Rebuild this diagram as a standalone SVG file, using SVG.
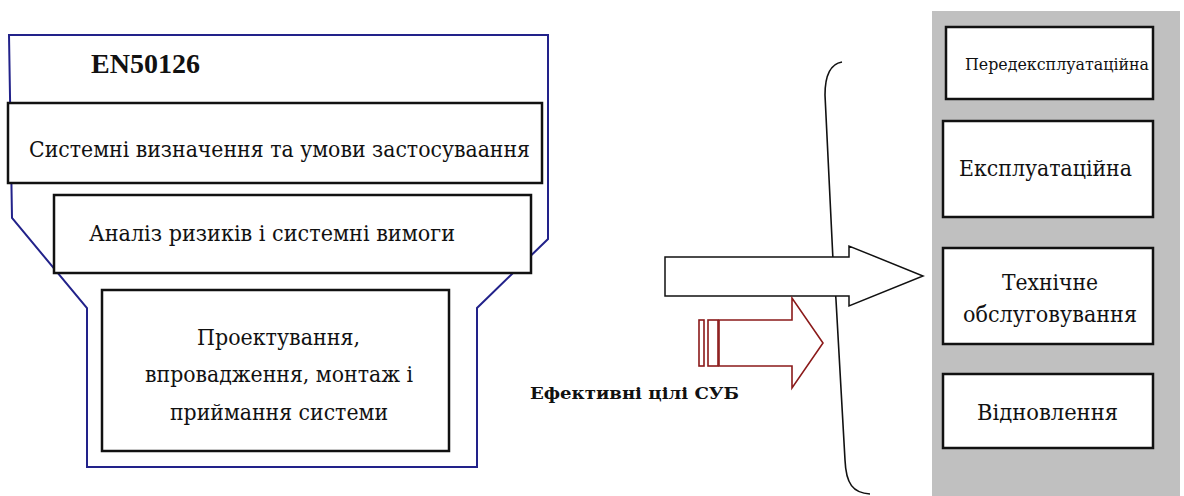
<svg xmlns="http://www.w3.org/2000/svg" width="1184" height="496" viewBox="0 0 1184 496">
  <style>
    .t { font-family: "Liberation Serif", "DejaVu Serif", serif; fill: #111; }
    .c { font-family: "DejaVu Serif", "Liberation Serif", serif; fill: #111; }
    .box { fill: #fff; stroke: #111; stroke-width: 2.5; }
    .outline { fill: none; stroke: #22228a; stroke-width: 2; }
    .arrow { fill: #fff; stroke: #111; stroke-width: 1.5; }
    .red { fill: #fff; stroke: #8b1a1a; stroke-width: 1.6; }
  </style>
  <rect x="0" y="0" width="1184" height="496" fill="#fff"/>

  <g id="en50126-frame">
    <path class="outline" d="M9,35 L548,35 L548,239 L477,308 L477,467 L87,467 L87,308 L12,218 Z"/>
    <text class="t" x="91" y="73" font-size="28" font-weight="bold" textLength="109" lengthAdjust="spacingAndGlyphs">EN50126</text>
  </g>

  <g id="node-system-def">
    <rect class="box" x="8" y="103" width="534" height="80"/>
    <text class="c" x="29" y="157" font-size="22" textLength="501" lengthAdjust="spacingAndGlyphs">Системні визначення та умови застосуваання</text>
  </g>

  <g id="node-risk">
    <rect class="box" x="54" y="195" width="477" height="78"/>
    <text class="c" x="89" y="241" font-size="22" textLength="366" lengthAdjust="spacingAndGlyphs">Аналіз ризиків і системні вимоги</text>
  </g>

  <g id="node-design">
    <rect class="box" x="102" y="290" width="347" height="161"/>
    <text class="c" x="197" y="345" font-size="22" textLength="163" lengthAdjust="spacingAndGlyphs">Проектування,</text>
    <text class="c" x="145" y="382" font-size="22" textLength="268" lengthAdjust="spacingAndGlyphs">впровадження, монтаж і</text>
    <text class="c" x="170" y="420" font-size="22" textLength="218" lengthAdjust="spacingAndGlyphs">приймання системи</text>
  </g>

  <g id="phases-panel">
    <rect x="932" y="11" width="248" height="485" fill="#c0c0c0"/>
  </g>

  <g id="node-pre">
    <rect class="box" x="946" y="27" width="207" height="72"/>
    <text class="c" x="965" y="70" font-size="16" textLength="184" lengthAdjust="spacingAndGlyphs">Передексплуатаційна</text>
  </g>
  <g id="node-operation">
    <rect class="box" x="943" y="121" width="210" height="96"/>
    <text class="c" x="959" y="176" font-size="22" textLength="173" lengthAdjust="spacingAndGlyphs">Експлуатаційна</text>
  </g>
  <g id="node-maintenance">
    <rect class="box" x="943" y="248" width="210" height="96"/>
    <text class="c" x="1002" y="290" font-size="22" textLength="96" lengthAdjust="spacingAndGlyphs">Технічне</text>
    <text class="c" x="963" y="322" font-size="22" textLength="174" lengthAdjust="spacingAndGlyphs">обслуговування</text>
  </g>
  <g id="node-restore">
    <rect class="box" x="943" y="374" width="210" height="74"/>
    <text class="c" x="977" y="420" font-size="22" textLength="141" lengthAdjust="spacingAndGlyphs">Відновлення</text>
  </g>

  <g id="connectors">
    <path d="M842,62 C830,64 825,75 825,95 L833,260 L836,300 L845,460 C846,484 853,493 870,494" fill="none" stroke="#111" stroke-width="1.6"/>
    <polygon class="arrow" points="665,257 849,257 849,246 923,276 849,306 849,296 665,296"/>
    <rect class="red" x="699" y="320" width="5" height="46"/>
    <rect class="red" x="708" y="320" width="10" height="46"/>
    <polygon class="red" points="719,320 792,320 792,298 823,343 792,388 792,366 719,366"/>
    <text class="c" x="530" y="399" font-size="17" font-weight="bold" textLength="209" lengthAdjust="spacingAndGlyphs">Ефективні цілі СУБ</text>
  </g>
</svg>
